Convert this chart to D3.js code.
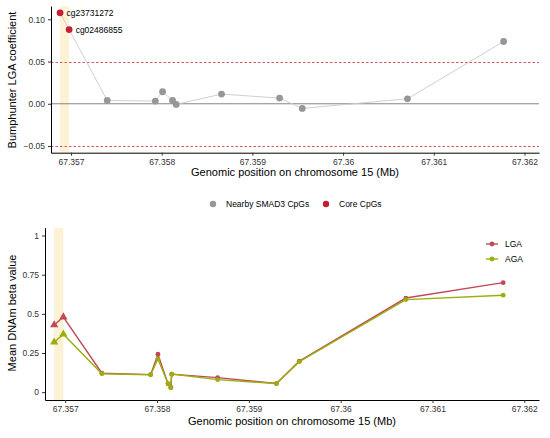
<!DOCTYPE html>
<meta charset="utf-8">
<head>
  <title>SMAD3 CpGs</title>
</head>
<body style="margin:0;background:#fff">
<style>
text { font-family: "Liberation Sans", Arial, sans-serif; }
.tick text { font-size: 8.5px; fill: #333; }
.tick line { stroke: #333; }
.domain { stroke: #000; }
.title { font-size: 11px; fill: #000; }
.leg { font-size: 8.5px; fill: #000; }
</style>
<svg width="550" height="438"></svg>
<script src="https://d3js.org/d3.v7.min.js"></script>
<script>

// top panel: genomic positions (Mb) and bumphunter coefficients
var positions = [67.35688, 67.35698, 67.35740, 67.35793, 67.35801, 67.35812, 67.35816, 67.35866, 67.35930, 67.35955, 67.36071, 67.36177];
var isCore = [true, true, false, false, false, false, false, false, false, false, false, false];
var coefLGA = [0.1076, 0.0878, 0.0039, 0.0032, 0.0142, 0.0039, -0.0008, 0.0115, 0.0067, -0.0055, 0.0059, 0.0737];
var coreLabels = ["cg23731272", "cg02486855"];

// bottom panel: mean beta values per group
var betaPos = [67.35688, 67.35698, 67.35740, 67.35793, 67.35801, 67.35812, 67.35815, 67.35816, 67.35866, 67.35930, 67.35955, 67.36071, 67.36177];
var betaLGA = [0.429, 0.480, 0.121, 0.112, 0.242, 0.053, 0.032, 0.115, 0.093, 0.055, 0.198, 0.601, 0.699];
var betaAGA = [0.319, 0.370, 0.118, 0.111, 0.212, 0.055, 0.027, 0.115, 0.080, 0.055, 0.195, 0.591, 0.619];

var xTicks = [67.357, 67.358, 67.359, 67.36, 67.361, 67.362];
var coefTicks = [-0.05, 0, 0.05, 0.10];
var betaTicks = [0, 0.25, 0.5, 0.75, 1];

var svg = d3.select("svg");
var xDomain = [67.35678, 67.36216];
var bandColor = "#fdf1d6";

// ---------------- top panel ----------------
var x1 = d3.scaleLinear().domain(xDomain).range([51, 539]);
var y1 = d3.scaleLinear().domain([-0.0579, 0.1157]).range([152.7, 6]);

svg.append("rect")
    .attr("x", x1(positions[0])).attr("y", 6)
    .attr("width", x1(positions[1]) - x1(positions[0]))
    .attr("height", 152.7 - 6)
    .attr("fill", bandColor);

[-0.05, 0.05].forEach(function(v) {
  var yy = Math.round(y1(v)) + 0.5;
  svg.append("line")
      .attr("x1", 51).attr("x2", 539)
      .attr("y1", yy).attr("y2", yy)
      .attr("stroke", "#d45a5a").attr("stroke-dasharray", "2.5,2").attr("stroke-width", 1);
});
svg.append("line")
    .attr("x1", 51).attr("x2", 539)
    .attr("y1", y1(0)).attr("y2", y1(0))
    .attr("stroke", "#777").attr("stroke-width", 0.9);

var coefData = positions.map(function(p, i) { return {x: p, y: coefLGA[i], core: isCore[i]}; });

svg.append("path")
    .datum(coefData)
    .attr("fill", "none").attr("stroke", "#c9c9c9").attr("stroke-width", 0.9)
    .attr("d", d3.line().x(function(d) { return x1(d.x); }).y(function(d) { return y1(d.y); }));

svg.selectAll(".cpt")
    .data(coefData.filter(function(d) { return !d.core; }).concat(coefData.filter(function(d) { return d.core; })))
    .enter().append("circle")
    .attr("cx", function(d) { return x1(d.x); })
    .attr("cy", function(d) { return y1(d.y); })
    .attr("r", 3.4)
    .attr("fill", function(d) { return d.core ? "#c21f32" : "#979797"; });

coreLabels.forEach(function(t, i) {
  svg.append("text").attr("class", "leg")
      .attr("x", x1(positions[i]) + 6.5).attr("y", y1(coefLGA[i]) + 3.5)
      .text(t);
});

svg.append("g")
    .attr("transform", "translate(0,152.7)")
    .call(d3.axisBottom(x1).tickValues(xTicks).tickFormat(d3.format("")).tickSize(3).tickSizeOuter(0));
svg.append("g")
    .attr("transform", "translate(51,0)")
    .call(d3.axisLeft(y1).tickValues(coefTicks).tickFormat(d3.format(".2f")).tickSize(3).tickSizeOuter(0));

svg.append("text").attr("class", "title")
    .attr("text-anchor", "middle")
    .attr("x", 295).attr("y", 176)
    .text("Genomic position on chromosome 15 (Mb)");
svg.append("text").attr("class", "title")
    .attr("text-anchor", "middle")
    .attr("transform", "translate(16,80) rotate(-90)")
    .text("Bumphunter LGA coefficient");

// middle legend
svg.append("circle").attr("cx", 213).attr("cy", 204).attr("r", 3.2).attr("fill", "#979797");
svg.append("text").attr("class", "leg").attr("x", 226).attr("y", 207).text("Nearby SMAD3 CpGs");
svg.append("circle").attr("cx", 326).attr("cy", 204).attr("r", 3.2).attr("fill", "#c21f32");
svg.append("text").attr("class", "leg").attr("x", 339).attr("y", 207).text("Core CpGs");

// ---------------- bottom panel ----------------
var x2 = d3.scaleLinear().domain(xDomain).range([45, 539]);
var y2 = d3.scaleLinear().domain([-0.05, 1.05]).range([400, 227.7]);

svg.append("rect")
    .attr("x", x2(positions[0])).attr("y", 227.7)
    .attr("width", x2(positions[1]) - x2(positions[0]))
    .attr("height", 400 - 227.7)
    .attr("fill", bandColor);

var groups = [
  {name: "LGA", color: "#c04a58", values: betaLGA},
  {name: "AGA", color: "#9aae0c", values: betaAGA}
];

var line2 = d3.line().x(function(d) { return x2(d.x); }).y(function(d) { return y2(d.y); });
var tri = d3.symbol().type(d3.symbolTriangle).size(30);

groups.forEach(function(g) {
  var pts = betaPos.map(function(p, i) { return {x: p, y: g.values[i], core: i < 2}; });
  svg.append("path").datum(pts)
      .attr("fill", "none").attr("stroke", g.color).attr("stroke-width", 1.4)
      .attr("d", line2);
  svg.selectAll(".c" + g.name)
      .data(pts.filter(function(d) { return !d.core; }))
      .enter().append("circle")
      .attr("cx", function(d) { return x2(d.x); })
      .attr("cy", function(d) { return y2(d.y); })
      .attr("r", 2.4).attr("fill", g.color);
  svg.selectAll(".t" + g.name)
      .data(pts.filter(function(d) { return d.core; }))
      .enter().append("path")
      .attr("transform", function(d) { return "translate(" + x2(d.x) + "," + y2(d.y) + ")"; })
      .attr("d", tri).attr("fill", g.color);
});

svg.append("g")
    .attr("transform", "translate(0,400)")
    .call(d3.axisBottom(x2).tickValues(xTicks).tickFormat(d3.format("")).tickSize(3).tickSizeOuter(0));
svg.append("g")
    .attr("transform", "translate(45,0)")
    .call(d3.axisLeft(y2).tickValues(betaTicks).tickFormat(d3.format("")).tickSize(3).tickSizeOuter(0));

svg.append("text").attr("class", "title")
    .attr("text-anchor", "middle")
    .attr("x", 292).attr("y", 424.5)
    .text("Genomic position on chromosome 15 (Mb)");
svg.append("text").attr("class", "title")
    .attr("text-anchor", "middle")
    .attr("transform", "translate(16,313) rotate(-90)")
    .text("Mean DNAm beta value");

// LGA / AGA legend
groups.forEach(function(g, i) {
  var ly = 244 + i * 15;
  svg.append("line").attr("x1", 486).attr("x2", 498).attr("y1", ly).attr("y2", ly)
      .attr("stroke", g.color).attr("stroke-width", 1.4);
  svg.append("circle").attr("cx", 492).attr("cy", ly).attr("r", 2.4).attr("fill", g.color);
  svg.append("text").attr("class", "leg").attr("x", 505).attr("y", ly + 3.2).text(g.name);
});

</script>
</body>
</html>
